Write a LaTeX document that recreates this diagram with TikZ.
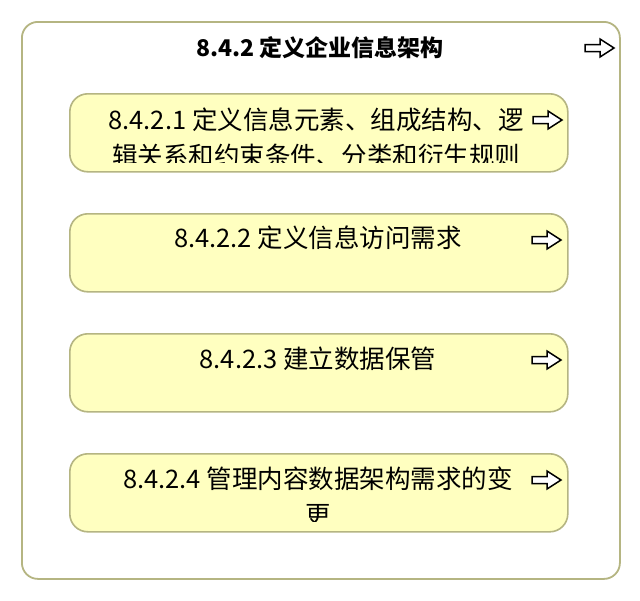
\documentclass[tikz,border=0pt]{standalone}
\usepackage{fontspec}
\setmainfont{Noto Sans CJK SC}
\definecolor{olivebd}{RGB}{181,181,130}
\definecolor{paleyel}{RGB}{255,255,192}
\tikzset{
  outerbox/.style={draw=olivebd, line width=1.8pt, rounded corners=16pt, fill=white, inner sep=0pt},
  subbox/.style={draw=olivebd, line width=1.6pt, rounded corners=18pt, fill=paleyel, minimum width=498pt, minimum height=78pt, anchor=north west, inner sep=0pt},
  txt/.style={anchor=base, inner sep=0pt, font=\fontsize{25.5}{30}\selectfont},
  ttl/.style={anchor=base, inner sep=0pt, font=\fontsize{23}{28}\selectfont\bfseries},
  hollowarrow/.pic={\draw[line width=1.5pt, line join=miter, fill=white] (-14,-3.5) -- (1,-3.5) -- (1,-9) -- (15,0) -- (1,9) -- (1,3.5) -- (-14,3.5) -- cycle;}
}
\begin{document}
\begin{tikzpicture}[x=1pt,y=-1pt]
\useasboundingbox (0,0) rectangle (640,600);
\node[outerbox, minimum width=598pt, minimum height=557pt, anchor=north west] (outer) at (21,21) {};
\node[ttl] (title) at (320,56) {8.4.2 定义企业信息架构};
\pic at (599,48) {hollowarrow};

\node[subbox] (b1) at (69,93) {};
\node[subbox] (b2) at (69,213) {};
\node[subbox] (b3) at (69,333) {};
\node[subbox] (b4) at (69,453) {};

\begin{scope}
\clip (69,93) rectangle (567,162);
\node[txt] (t1a) at (316,129) {8.4.2.1 定义信息元素、组成结构、逻};
\node[txt] (t1b) at (316,165) {辑关系和约束条件、分类和衍生规则};
\end{scope}
\node[txt] (t2) at (318,247) {8.4.2.2 定义信息访问需求};
\node[txt] (t3) at (318,368) {8.4.2.3 建立数据保管};
\begin{scope}
\clip (69,453) rectangle (567,521);
\node[txt] (t4a) at (318,488) {8.4.2.4 管理内容数据架构需求的变};
\node[txt] (t4b) at (318,524) {更};
\end{scope}

\pic at (547,120) {hollowarrow};
\pic at (546,240) {hollowarrow};
\pic at (546,360) {hollowarrow};
\pic at (546,480) {hollowarrow};
\end{tikzpicture}
\end{document}
